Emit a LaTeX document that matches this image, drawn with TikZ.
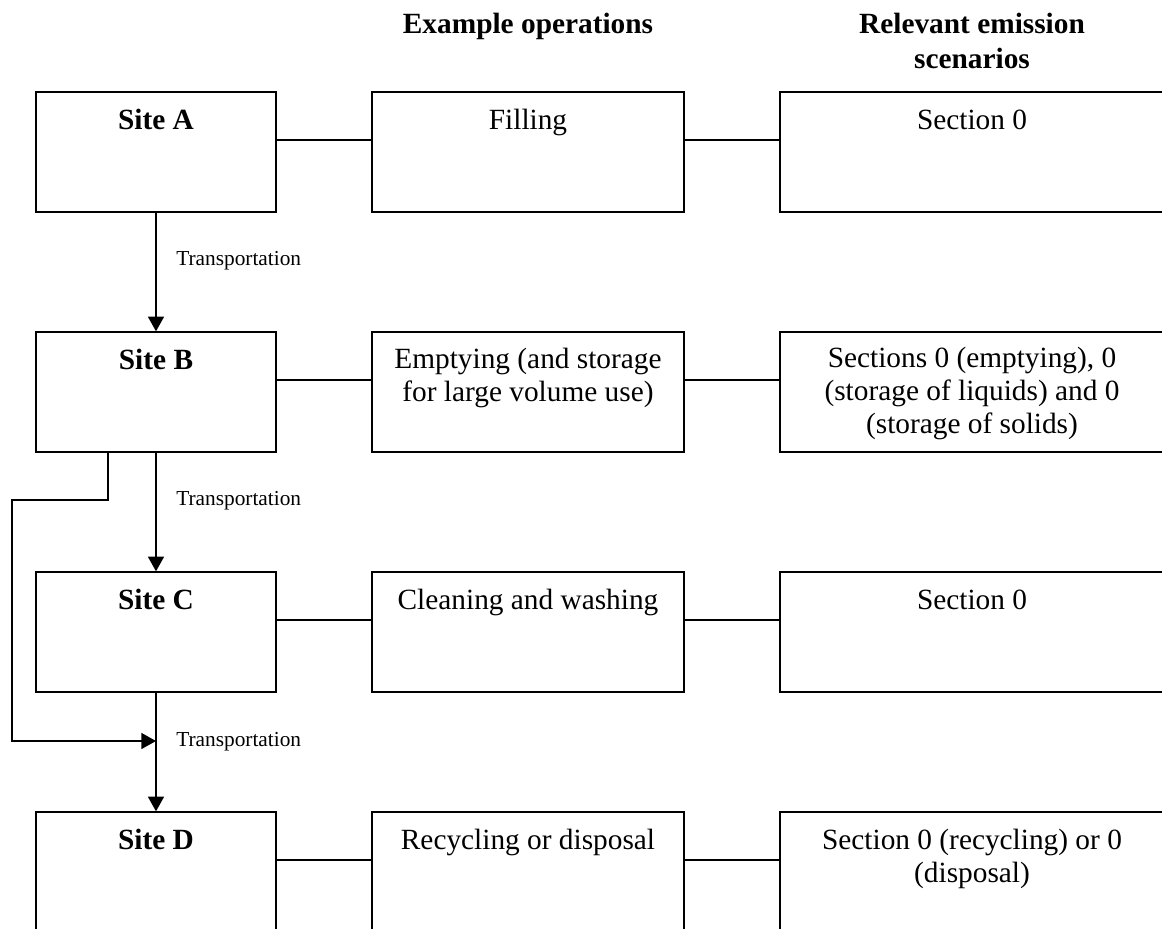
\documentclass[tikz,border=0pt]{standalone}
\usepackage{fontspec}
\setmainfont{Liberation Serif}
\usetikzlibrary{arrows.meta}
\begin{document}
\begin{tikzpicture}[x=0.75pt,y=-0.75pt,
  box/.style={draw, line width=1pt, inner sep=0pt, rectangle},
  sitebox/.style={box, minimum width=180pt, minimum height=90pt},
  opbox/.style={box, minimum width=234pt, minimum height=90pt},
  scbox/.style={box, minimum width=288pt, minimum height=90pt},
  txt/.style={font=\fontsize{22}{24.75}\selectfont, align=center, inner sep=0pt, anchor=base},
  sitetxt/.style={txt, font=\fontsize{22}{24.75}\selectfont\bfseries},
  head/.style={txt, font=\fontsize{22}{26.25}\selectfont\bfseries},
  trans/.style={font=\fontsize{16}{19}\selectfont, inner sep=0pt, anchor=base west},
  link/.style={line width=1pt},
  flow/.style={line width=1pt, -{Triangle[length=11pt,width=12pt]}}]
\useasboundingbox (0,0) rectangle (1162,928);
\clip (0,0) rectangle (1162,928);

% headings (base anchor = baseline of last line)
\node[head] (h1) at (528,33) {Example operations};
\node[head] (h2) at (972,68) {Relevant emission\\scenarios};

% boxes
\node[sitebox] (A) at (156,152) {};
\node[sitebox] (B) at (156,392) {};
\node[sitebox] (C) at (156,632) {};
\node[sitebox] (D) at (156,872) {};
\node[opbox] (oA) at (528,152) {};
\node[opbox] (oB) at (528,392) {};
\node[opbox] (oC) at (528,632) {};
\node[opbox] (oD) at (528,872) {};
\node[scbox] (sA) at (972,152) {};
\node[scbox] (sB) at (972,392) {};
\node[scbox] (sC) at (972,632) {};
\node[scbox] (sD) at (972,872) {};

% box texts
\node[sitetxt] (tA) at (156,129) {Site A};
\node[sitetxt] (tB) at (156,369) {Site B};
\node[sitetxt] (tC) at (156,609) {Site C};
\node[sitetxt] (tD) at (156,849) {Site D};
\node[txt] (toA) at (528,129) {Filling};
\node[txt] (toB) at (528,401) {Emptying (and storage\\for large volume use)};
\node[txt] (toC) at (528,609) {Cleaning and washing};
\node[txt] (toD) at (528,849) {Recycling or disposal};
\node[txt] (tsA) at (972,129) {Section 0};
\node[txt] (tsB) at (972,433) {Sections 0 (emptying), 0\\(storage of liquids) and 0\\(storage of solids)};
\node[txt] (tsC) at (972,609) {Section 0};
\node[txt] (tsD) at (972,882) {Section 0 (recycling) or 0\\(disposal)};

% horizontal links
\foreach \r in {A,B,C,D}{
  \draw[link] ([yshift=9pt]\r.east) -- ([yshift=9pt]o\r.west);
  \draw[link] ([yshift=9pt]o\r.east) -- ([yshift=9pt]s\r.west);
}

% transportation arrows
\draw[flow] (A.south) -- (B.north);
\draw[flow] (B.south) -- (C.north);
\draw[flow] (C.south) -- (D.north);
\node[trans] (l1) at (176,265) {Transportation};
\node[trans] (l2) at (176,505) {Transportation};
\node[trans] (l3) at (176,746) {Transportation};

% bypass from B to C-D line
\coordinate (j1) at (12,500);
\coordinate (m) at (156,741);
\draw[flow] ([xshift=-36pt]B.south) |- (j1) |- (m);
\end{tikzpicture}
\end{document}
